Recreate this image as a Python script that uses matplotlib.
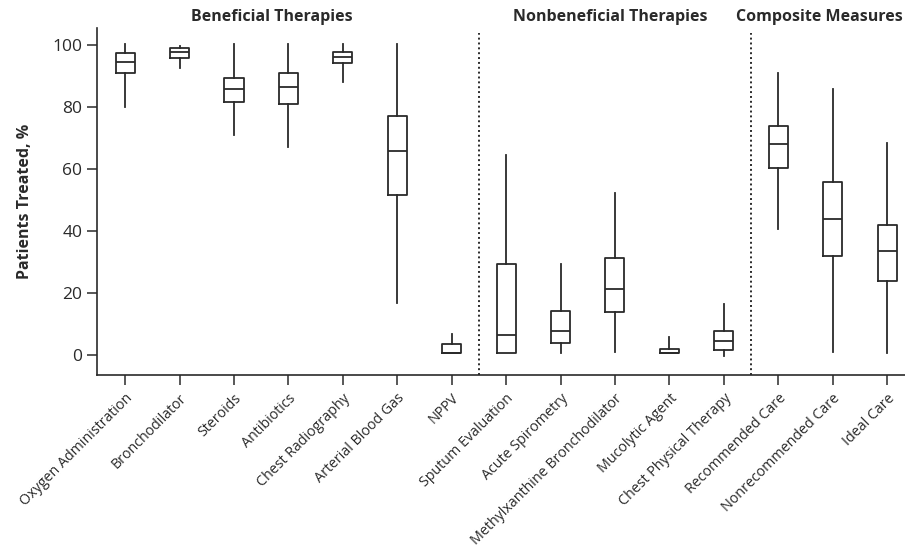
import matplotlib
matplotlib.use("Agg")
import matplotlib.pyplot as plt

# box plot summaries (% of patients treated)
categories = [
    "Oxygen Administration", "Bronchodilator", "Steroids", "Antibiotics",
    "Chest Radiography", "Arterial Blood Gas", "NPPV",
    "Sputum Evaluation", "Acute Spirometry", "Methylxanthine Bronchodilator",
    "Mucolytic Agent", "Chest Physical Therapy",
    "Recommended Care", "Nonrecommended Care", "Ideal Care",
]
whisker_low = [80.1, 92.5, 71.0, 67.2, 88.2, 16.7, 0.7,
               0.7, 0.5, 0.9, 0.7, -0.3, 40.7, 1.1, 0.7]
q1 = [90.9, 95.7, 81.6, 81.0, 94.1, 51.7, 0.7,
      0.7, 3.9, 13.8, 0.7, 1.6, 60.4, 31.8, 24.0]
median = [94.5, 97.7, 85.9, 86.6, 96.2, 65.9, 0.7,
          6.3, 7.6, 21.3, 0.7, 4.5, 68.0, 43.9, 33.5]
q3 = [97.3, 98.9, 89.5, 90.9, 97.8, 77.2, 3.4,
      29.3, 14.2, 31.2, 2.0, 7.7, 73.9, 55.9, 41.8]
whisker_high = [100.4, 99.8, 100.2, 100.2, 100.2, 100.2, 6.8,
                64.5, 29.3, 52.4, 5.7, 16.3, 90.9, 85.7, 68.3]

group_titles = ["Beneficial Therapies", "Nonbeneficial Therapies", "Composite Measures"]
group_breaks = [6.5, 11.5]

plt.rcParams["font.family"] = ["Open Sans", "DejaVu Sans"]
ink = "#2a2a2a"

fig = plt.figure(figsize=(9.05, 5.49), dpi=100)
ax = fig.add_axes([0.107, 0.317, 0.893, 0.632])

stats = []
for i, name in enumerate(categories):
    stats.append({"label": name, "whislo": whisker_low[i], "q1": q1[i],
                  "med": median[i], "q3": q3[i], "whishi": whisker_high[i]})

pos = list(range(len(categories)))
line = dict(color=ink, linewidth=1.3)
ax.bxp(stats, positions=pos, widths=0.35, showfliers=False, showcaps=False,
       boxprops=line, medianprops=line, whiskerprops=line)

for xb in group_breaks:
    ax.axvline(xb, ymin=0, ymax=0.985, color=ink, linestyle=(0, (1, 1.5)),
               linewidth=1.4)

ax.set_xlim(-0.52, 14.33)
ax.set_ylim(-6.45, 105.5)
ax.set_yticks([0, 20, 40, 60, 80, 100])
ax.set_xticks(pos)
ax.set_xticklabels(categories, rotation=45, ha="right", rotation_mode="anchor",
                   fontsize=10.3, color=ink)
ax.tick_params(axis="both", direction="out", length=7.5, width=1.1, color=ink,
               labelcolor=ink)
ax.tick_params(axis="y", labelsize=12.5, pad=3)
ax.tick_params(axis="x", pad=4)

for side in ("top", "right"):
    ax.spines[side].set_visible(False)
for side in ("left", "bottom"):
    ax.spines[side].set_color(ink)
    ax.spines[side].set_linewidth(1.2)

ax.set_ylabel("Patients Treated, %", fontsize=11.5, fontweight="bold",
              color=ink, labelpad=14)

# group headings above the plot area
title_y = 109
ax.text(2.7, title_y, group_titles[0], ha="center", va="center",
        fontsize=11.5, fontweight="bold", color=ink, clip_on=False)
ax.text(8.92, title_y, group_titles[1], ha="center", va="center",
        fontsize=11.5, fontweight="bold", color=ink, clip_on=False)
ax.text(11.23, title_y, group_titles[2], ha="left", va="center",
        fontsize=11.5, fontweight="bold", color=ink, clip_on=False)

fig.savefig("out.png", dpi=100)
